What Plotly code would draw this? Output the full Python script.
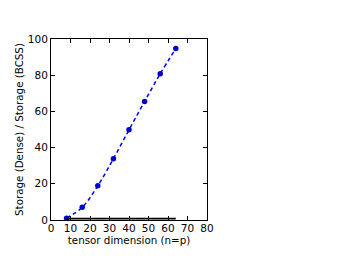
import plotly.graph_objects as go

dims = [8, 16, 24, 32, 40, 48, 56, 64]
ratio = [1.0, 7.0, 18.9, 33.9, 49.8, 65.5, 80.8, 94.7]
baseline_x = [8, 64]
baseline_y = [0.8, 0.8]

fig = go.Figure()
fig.add_trace(go.Scatter(x=dims, y=ratio, mode='lines+markers',
                         line=dict(color='#0000ff', dash='4px,3px', width=1.5, shape='spline'),
                         marker=dict(color='#0000cc', size=5.5)))
fig.add_trace(go.Scatter(x=baseline_x, y=baseline_y, mode='lines',
                         line=dict(color='black', width=1.8)))

axis_common = dict(showgrid=False, zeroline=False, ticks='inside', ticklen=4,
                   tickcolor='black', showline=True, linecolor='black', linewidth=1,
                   mirror='ticks', tickfont=dict(size=10.5, color='black'))
fig.update_xaxes(range=[0, 80], tickvals=list(range(0, 81, 10)), ticklabelstandoff=-2,
                 title=dict(text='tensor dimension (n=p)', font=dict(size=10.3), standoff=0),
                 **axis_common)
fig.update_yaxes(range=[0, 100], tickvals=list(range(0, 101, 20)),
                 title=dict(text='Storage (Dense) / Storage (BCSS)', font=dict(size=10.3), standoff=2),
                 **axis_common)
fig.update_layout(width=338, height=252, showlegend=False,
                  margin=dict(l=43, r=139, t=31, b=40),
                  paper_bgcolor='white', plot_bgcolor='white',
                  font=dict(family='DejaVu Sans', color='black'))
fig.write_html('out.html')
